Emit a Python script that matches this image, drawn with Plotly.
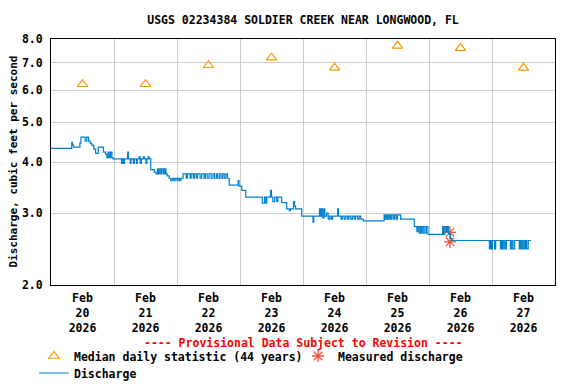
import pandas as pd
import plotly.graph_objects as go

titulo = "USGS 02234384 SOLDIER CREEK NEAR LONGWOOD, FL"
fonte = "DejaVu Sans Mono"

# discharge, step data: hours since 2026-02-20 00:00 and cfs
horas = [
    0.0, 7.9, 8.2, 8.6, 11.0, 11.4, 13.0, 13.6, 14.3, 14.9, 15.5, 16.3, 17.0, 18.0, 20.0, 20.8, 21.3, 21.8, 22.2, 22.7, 23.2, 23.6,
    26.9, 27.2, 27.7, 28.0, 29.2, 29.5, 30.2, 30.5, 31.4, 31.8, 32.6, 32.9, 33.6, 34.0, 34.4, 35.2, 35.6, 36.2, 36.5, 37.0, 37.4,
    38.0, 39.4, 40.0, 40.6, 41.0, 41.5, 42.0, 42.3, 42.9, 43.4, 43.8, 44.3, 45.0, 45.6, 46.2, 46.8, 47.3, 48.0, 48.4, 49.0, 49.5,
    50.3, 51.5, 52.0, 53.0, 53.4, 54.2, 54.6, 55.3, 55.8, 56.8, 57.4, 58.3, 58.8, 59.5, 60.2, 61.0, 61.7, 62.3, 63.0, 63.5, 64.2, 64.8, 65.4, 66.0, 66.6, 67.2,
    67.9, 71.3, 71.6, 72.7, 74.2, 80.5, 81.3, 81.8, 82.2, 83.6, 84.0, 84.5, 85.2, 86.0, 86.4, 87.9, 89.8, 90.8, 91.2, 92.4, 92.8, 93.2, 95.5,
    99.8, 100.1, 102.3, 102.6, 103.0, 103.5, 104.0, 104.3, 105.0, 105.6, 106.2, 106.8, 107.3, 109.2, 109.5, 110.5, 111.0, 111.7, 112.3, 113.0, 113.5, 114.2, 114.8, 115.5, 116.0, 116.8, 117.4, 118.0, 119.0,
    126.9, 127.3, 127.8, 128.3, 128.8, 129.3, 129.8, 130.4, 130.9, 131.5, 132.0, 133.2, 138.4, 139.4, 139.8, 140.3, 140.8, 141.3, 141.8, 142.4, 143.0, 143.6,
    149.2, 149.5, 150.0, 150.5, 151.0, 151.5, 152.2, 152.7,
    167.0, 167.4, 167.8, 168.2, 169.0, 169.4, 170.0, 171.2, 171.6, 172.0, 172.5, 173.0, 173.5, 174.0, 175.0, 175.5, 176.0, 176.6, 177.0, 178.4, 178.8, 179.3, 179.8, 180.3, 180.8, 181.2, 181.8, 182.9,
]
vazao = [
    4.32, 4.47, 4.40, 4.35, 4.45, 4.60, 4.50, 4.60, 4.50, 4.45, 4.40, 4.30, 4.20, 4.35, 4.23, 4.18, 4.10, 4.23, 4.10, 4.23, 4.10, 4.07,
    3.97, 4.07, 3.97, 4.07, 4.23, 4.07, 3.97, 4.07, 3.97, 4.07, 3.97, 4.07, 4.12, 3.97, 4.07, 4.12, 4.07, 3.97, 4.07, 4.12, 4.07,
    3.83, 3.78, 3.74, 3.85, 3.74, 3.85, 3.74, 3.85, 3.74, 3.85, 3.74, 3.70, 3.65, 3.60, 3.65, 3.60, 3.65, 3.60, 3.65, 3.60, 3.65,
    3.74, 3.65, 3.74, 3.65, 3.74, 3.65, 3.74, 3.65, 3.74, 3.65, 3.74, 3.65, 3.74, 3.65, 3.74, 3.65, 3.74, 3.65, 3.74, 3.65, 3.74, 3.65, 3.74, 3.65, 3.74, 3.65,
    3.51, 3.60, 3.49, 3.41, 3.28, 3.17, 3.28, 3.17, 3.28, 3.41, 3.28, 3.20, 3.28, 3.20, 3.28, 3.18, 3.07, 3.04, 3.07, 3.20, 3.12, 3.07, 2.95,
    2.85, 2.95, 3.07, 2.95, 3.07, 2.92, 3.07, 2.95, 3.00, 2.90, 2.95, 2.90, 2.95, 3.07, 2.95, 2.90, 2.95, 2.90, 2.95, 2.90, 2.95, 2.90, 2.95, 2.90, 2.95, 2.90, 2.95, 2.90, 2.87,
    2.97, 2.90, 2.97, 2.90, 2.97, 2.90, 2.97, 2.90, 2.97, 2.90, 2.97, 2.90, 2.78, 2.70, 2.78, 2.68, 2.78, 2.68, 2.78, 2.68, 2.78, 2.66,
    2.78, 2.66, 2.78, 2.70, 2.78, 2.66, 2.60, 2.57,
    2.45, 2.57, 2.45, 2.57, 2.45, 2.57, 2.57, 2.45, 2.57, 2.45, 2.57, 2.45, 2.57, 2.57, 2.45, 2.57, 2.45, 2.57, 2.57, 2.45, 2.57, 2.45, 2.57, 2.45, 2.57, 2.45, 2.57, 2.57,
]

# median daily statistic (44 years), plotted at noon
datas_mediana = ["2026-02-20 12:00", "2026-02-21 12:00", "2026-02-22 12:00", "2026-02-23 12:00",
                 "2026-02-24 12:00", "2026-02-25 12:00", "2026-02-26 12:00", "2026-02-27 12:00"]
mediana = [6.2, 6.2, 6.9, 7.2, 6.8, 7.7, 7.6, 6.8]

# field measurements
datas_medicao = ["2026-02-26 08:00", "2026-02-26 08:00"]
medicao = [2.69, 2.55]

dias = ["20", "21", "22", "23", "24", "25", "26", "27"]
y_ticks = [2, 3, 4, 5, 6, 7, 8]

inicio = pd.Timestamp("2026-02-20")
tempos = inicio + pd.to_timedelta(horas, unit="h")
meio_dias = [inicio + pd.Timedelta(hours=12 + 24 * i) for i in range(len(dias))]
meia_noites = [inicio + pd.Timedelta(days=i) for i in range(1, 8)]

# the page body has an 8px margin, so the figure is 8px smaller
W, H = 568, 376
plot_w, plot_h = 504, 246

fig = go.Figure()
fig.add_trace(go.Scatter(
    x=datas_mediana, y=mediana, mode="markers", name="Median daily statistic (44 years)",
    marker=dict(symbol="triangle-up-open", size=9, color="#FF9900", line=dict(width=1.2, color="#FF9900")),
    legend="legend",
))
fig.add_trace(go.Scatter(
    x=datas_medicao, y=medicao, mode="markers", name="Measured discharge",
    marker=dict(symbol="asterisk-open", size=10, line=dict(width=1.3, color="red")),
    legend="legend2",
))
fig.add_trace(go.Scatter(
    x=tempos, y=vazao, mode="lines", name="Discharge", line_shape="hv",
    line=dict(color="#0080D0", width=1.2),
    legend="legend3",
))

fonte_leg = dict(family=fonte, size=11.5, weight="bold", color="black")
leg_comum = dict(orientation="h", xanchor="left", yanchor="middle", font=fonte_leg,
                 bgcolor="rgba(0,0,0,0)", itemwidth=30)

fig.update_layout(
    width=W, height=H,
    margin=dict(l=43, r=21, t=31, b=99, autoexpand=False),
    paper_bgcolor="white", plot_bgcolor="white",
    font=dict(family=fonte, size=11.5, color="black", weight="bold"),
    title=dict(text=titulo, x=0.5, xref="paper", xanchor="center", y=1 - 12 / H, yref="container",
               yanchor="middle", font=dict(family=fonte, size=11.5, weight="bold")),
    showlegend=True,
    legend=dict(x=-17 / plot_w, y=-71 / plot_h, **leg_comum),
    legend2=dict(x=247 / plot_w, y=-71 / plot_h, **leg_comum),
    legend3=dict(x=-17 / plot_w, y=-88 / plot_h, **leg_comum),
    annotations=[
        dict(text="---- Provisional Data Subject to Revision ----", xref="paper", yref="paper",
             x=0.5, y=-58 / plot_h, xanchor="center", yanchor="middle", showarrow=False,
             font=dict(family=fonte, size=11.5, color="red", weight="bold")),
        dict(text="Discharge, cubic feet per second", xref="paper", yref="paper", textangle=-90,
             x=-38.5 / plot_w, y=0.5, xanchor="center", yanchor="middle", showarrow=False,
             font=dict(family=fonte, size=11, color="black", weight="bold")),
    ],
)

fig.update_xaxes(
    type="date", range=[inicio, inicio + pd.Timedelta(days=8)],
    tickmode="array", tickvals=meio_dias, ticktext=["Feb<br>" + d + "<br>2026" for d in dias],
    ticks="", showgrid=False, showline=True, linecolor="black", linewidth=1, mirror=True,
    minor=dict(tickmode="array", tickvals=meia_noites, showgrid=True, gridcolor="#CCCCCC", gridwidth=1, ticks=""),
    ticklabelstandoff=2, zeroline=False, automargin=False,
)
fig.update_yaxes(
    type="log", range=[0.30103, 0.90309],
    tickmode="array", tickvals=y_ticks, ticktext=["%.1f" % v for v in y_ticks],
    ticks="", showgrid=True, gridcolor="#CCCCCC", gridwidth=1,
    showline=True, linecolor="black", linewidth=1, mirror=True, zeroline=False,
    ticklabelstandoff=5, automargin=False,
)

fig.write_html("out.html")
